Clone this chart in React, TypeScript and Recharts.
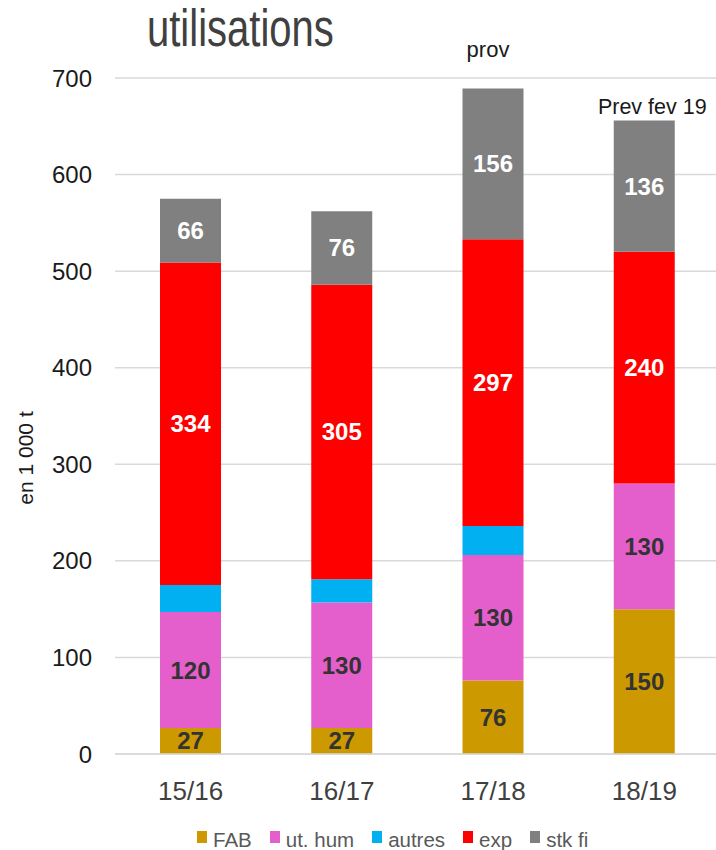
import React from "react";
import {
  BarChart,
  Bar,
  XAxis,
  YAxis,
  CartesianGrid,
  Legend,
  LabelList,
  Label,
} from "recharts";

const categories = ["15/16", "16/17", "17/18", "18/19"];
const fab = [27, 27, 76, 150];
const utHum = [120, 130, 130, 130];
const autres = [28, 24, 30, 0];
const exp = [334, 305, 297, 240];
const stkFi = [66, 76, 156, 136];
const notes = ["", "", "prov", "Prev fev 19"];
const yTicks = [0, 100, 200, 300, 400, 500, 600, 700];

const data = categories.map((cat, i) => ({
  cat,
  fab: fab[i],
  hum: utHum[i],
  autres: autres[i],
  exp: exp[i],
  stk: stkFi[i],
  note: notes[i],
}));

const series = [
  { key: "fab", name: "FAB", color: "#CC9900", label: "#333333" },
  { key: "hum", name: "ut. hum", color: "#E55FCC", label: "#333333" },
  { key: "autres", name: "autres", color: "#00B0F0", label: null },
  { key: "exp", name: "exp", color: "#FF0000", label: "#FFFFFF" },
  { key: "stk", name: "stk fi", color: "#808080", label: "#FFFFFF" },
];

const FONT = "'Liberation Sans', Arial, sans-serif";

// the two notes were free text boxes in the original, so each has its own offset
const notePos: Record<string, { dx: number; gap: number; size: number }> = {
  prov: { dx: -5, gap: 32, size: 22 },
  "Prev fev 19": { dx: 8, gap: 6, size: 21.5 },
};

function NoteLabel(props: any) {
  const { x, y, width, value } = props;
  if (!value) return null;
  const p = notePos[value] || { dx: 0, gap: 8, size: 21 };
  return (
    <text
      x={x + width / 2 + p.dx}
      y={y - p.gap}
      textAnchor="middle"
      fontSize={p.size}
      fill="#1a1a1a"
      fontFamily={FONT}
    >
      {value}
    </text>
  );
}

function LegendContent() {
  return (
    <div
      style={{
        height: 24,
        display: "flex",
        paddingLeft: 197,
        fontFamily: FONT,
      }}
    >
      {series.map((s) => (
        <div
          key={s.key}
          style={{ display: "flex", alignItems: "flex-start", marginRight: 18 }}
        >
          <div
            style={{
              width: 10,
              height: 12,
              marginTop: 5,
              marginRight: 6,
              background: s.color,
            }}
          />
          <span
            style={{
              fontSize: 20.5,
              lineHeight: "24px",
              color: "#595959",
              position: "relative",
              top: 2,
              whiteSpace: "nowrap",
            }}
          >
            {s.name}
          </span>
        </div>
      ))}
    </div>
  );
}

export default function App() {
  return (
    <div
      style={{
        position: "absolute",
        left: 0,
        top: 0,
        width: 716,
        height: 850,
        overflow: "hidden",
        background: "#fff",
        fontFamily: FONT,
      }}
    >
      {/* title is stretched vertically in the original */}
      <div
        style={{
          position: "absolute",
          left: 147,
          top: 12,
          fontSize: 40,
          lineHeight: "40px",
          height: 40,
          color: "#404040",
          transform: "scaleY(1.28)",
          transformOrigin: "0 34px",
          zIndex: 2,
        }}
      >
        utilisations
      </div>
      <BarChart
        width={720}
        height={850}
        data={data}
        margin={{ top: 78, right: 0, left: 0, bottom: 0 }}
        barSize={61}
      >
        <CartesianGrid vertical={false} stroke="#d9d9d9" strokeWidth={1.5} />
        <XAxis
          dataKey="cat"
          height={72}
          tickLine={false}
          axisLine={{ stroke: "#d9d9d9", strokeWidth: 1.5 }}
          tickMargin={22}
          tick={{ fill: "#404040", fontSize: 26, fontFamily: FONT }}
        />
        <YAxis
          width={115}
          domain={[0, 700]}
          ticks={yTicks}
          interval={0}
          axisLine={false}
          tickLine={false}
          tickMargin={17}
          tick={{ fill: "#1a1a1a", fontSize: 24, fontFamily: FONT }}
        >
          <Label
            content={() => (
              <text
                x={25}
                y={458}
                transform="rotate(-90 25 458)"
                textAnchor="middle"
                dominantBaseline="central"
                fontSize={21}
                fill="#1a1a1a"
                fontFamily={FONT}
              >
                en 1 000 t
              </text>
            )}
          />
        </YAxis>
        <Legend verticalAlign="bottom" content={<LegendContent />} />
        {series.map((s) => (
          <Bar
            key={s.key}
            dataKey={s.key}
            name={s.name}
            stackId="a"
            fill={s.color}
            isAnimationActive={false}
          >
            {s.label && (
              <LabelList
                dataKey={s.key}
                position="center"
                fill={s.label}
                fontSize={24}
                fontWeight="bold"
                fontFamily={FONT}
              />
            )}
            {s.key === "stk" && (
              <LabelList dataKey="note" content={<NoteLabel />} />
            )}
          </Bar>
        ))}
      </BarChart>
    </div>
  );
}
